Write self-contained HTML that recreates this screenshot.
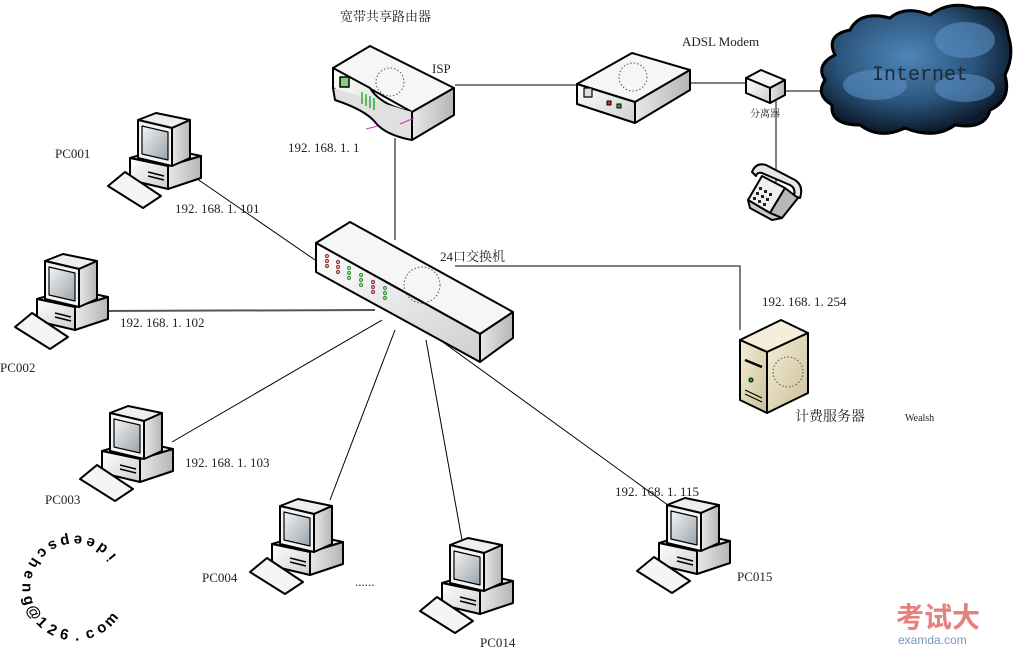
<!DOCTYPE html>
<html><head><meta charset="utf-8">
<style>
html,body{margin:0;padding:0;background:#fff;}
svg{display:block;}
text{font-family:"Liberation Serif","Noto Serif CJK SC",serif;fill:#222;}
.sg{font-family:"Liberation Sans",sans-serif;font-weight:bold;font-size:15px;fill:#000;}
</style></head>
<body>
<svg width="1017" height="653" viewBox="0 0 1017 653" xmlns="http://www.w3.org/2000/svg">
<defs>
<linearGradient id="gw" x1="0" y1="0" x2="1" y2="1"><stop offset="0" stop-color="#ffffff"/><stop offset="1" stop-color="#cfcfcf"/></linearGradient>
<linearGradient id="gd" x1="0" y1="0" x2="1" y2="0"><stop offset="0" stop-color="#e8e8e8"/><stop offset="1" stop-color="#b5b5b5"/></linearGradient>
<linearGradient id="gs" x1="0" y1="0" x2="1" y2="1"><stop offset="0" stop-color="#f4f4f4"/><stop offset="1" stop-color="#9aa3aa"/></linearGradient>
<radialGradient id="gc" cx="0.45" cy="0.4" r="0.6"><stop offset="0" stop-color="#4f86b8"/><stop offset="0.6" stop-color="#2c557c"/><stop offset="1" stop-color="#0c1a2a"/></radialGradient>
<linearGradient id="gsv" x1="0" y1="0" x2="1" y2="1"><stop offset="0" stop-color="#f5efd8"/><stop offset="1" stop-color="#cbbf98"/></linearGradient>
<g id="pc" stroke="#000" stroke-width="2" stroke-linejoin="round">
  <polygon points="22,46 56,36 93,44 60,54" fill="#f2f2f2"/>
  <polygon points="22,46 60,54 60,77 22,68" fill="url(#gw)"/>
  <polygon points="60,54 93,44 93,66 60,77" fill="url(#gd)"/>
  <polygon points="30,8 48,1 82,8 64,16" fill="#eee"/>
  <polygon points="30,8 64,16 64,54 30,46" fill="#f4f4f4"/>
  <polygon points="64,16 82,8 82,46 64,54" fill="url(#gd)"/>
  <polygon points="34,14 60,20 60,48 34,42" fill="url(#gs)" stroke-width="1.2"/>
  <line x1="40" y1="60" x2="56" y2="64" stroke-width="1.5"/>
  <line x1="40" y1="64" x2="56" y2="68" stroke-width="1.5"/>
  <polygon points="0,74 17,60 53,84 35,96" fill="#f5f5f5"/>
</g>
</defs>

<!-- connectors -->
<g stroke="#000" stroke-width="1" fill="none">
<line x1="190" y1="174" x2="318" y2="262"/>
<line x1="100" y1="311" x2="375" y2="310" stroke="#555" stroke-width="2"/>
<line x1="172" y1="442" x2="382" y2="320"/>
<line x1="330" y1="500" x2="395" y2="330"/>
<line x1="462" y1="540" x2="426" y2="340"/>
<line x1="672" y1="508" x2="440" y2="340"/>
<line x1="395" y1="138" x2="395" y2="240"/>
<polyline points="455,266 740,266 740,330"/>
<line x1="455" y1="85" x2="580" y2="85"/>
<line x1="690" y1="83" x2="748" y2="83"/>
<line x1="785" y1="91" x2="830" y2="91"/>
<line x1="776" y1="100" x2="776" y2="185"/>
</g>

<!-- router -->
<g stroke="#000" stroke-width="2" stroke-linejoin="round">
<polygon points="333,68 370,46 454,88 412,112" fill="#f6f6f6"/>
<path d="M333,68 L333,88 Q350,100 368,105 Q378,125 410,135 L412,112 Q380,105 370,88 Z" fill="url(#gw)"/>
<polygon points="412,112 454,88 454,115 412,140" fill="url(#gd)"/>
<path d="M412,112 L412,140 Q385,135 375,122 Q365,110 335,100 L333,88" fill="#e0e0e0"/>
<rect x="340" y="77" width="9" height="10" fill="#7fcf7f" stroke-width="1.5"/>
</g>
<g stroke="#3a3" stroke-width="1.5"><line x1="362" y1="92" x2="362" y2="104"/><line x1="366" y1="94" x2="366" y2="106"/><line x1="370" y1="96" x2="370" y2="108"/><line x1="374" y1="98" x2="374" y2="110"/></g>
<line x1="400" y1="124" x2="414" y2="118" stroke="#c3c" stroke-width="1"/>
<line x1="366" y1="129" x2="378" y2="126" stroke="#c3c" stroke-width="1"/>
<circle cx="390" cy="82" r="14" fill="none" stroke="#555" stroke-dasharray="1.5,2" stroke-width="1"/>

<!-- switch -->
<g stroke="#000" stroke-width="2" stroke-linejoin="round">
<polygon points="316,243 350,222 513,312 480,334" fill="#f6f6f6"/>
<polygon points="316,243 480,334 480,362 316,272" fill="url(#gw)"/>
<polygon points="480,334 513,312 513,338 480,362" fill="url(#gd)"/>
</g>
<g fill="none" stroke-width="1.2">
<g stroke="#933"><circle cx="327" cy="256" r="1.5"/><circle cx="327" cy="261" r="1.5"/><circle cx="327" cy="266" r="1.5"/><circle cx="338" cy="262" r="1.5"/><circle cx="338" cy="267" r="1.5"/><circle cx="338" cy="272" r="1.5"/><circle cx="373" cy="282" r="1.5"/><circle cx="373" cy="287" r="1.5"/><circle cx="373" cy="292" r="1.5"/></g>
<g stroke="#393"><circle cx="349" cy="268" r="1.5"/><circle cx="349" cy="273" r="1.5"/><circle cx="349" cy="278" r="1.5"/><circle cx="361" cy="275" r="1.5"/><circle cx="361" cy="280" r="1.5"/><circle cx="361" cy="285" r="1.5"/><circle cx="385" cy="288" r="1.5"/><circle cx="385" cy="293" r="1.5"/><circle cx="385" cy="298" r="1.5"/></g>
</g>
<circle cx="422" cy="285" r="18" fill="none" stroke="#555" stroke-dasharray="1.5,2" stroke-width="1"/>

<!-- modem -->
<g stroke="#000" stroke-width="2" stroke-linejoin="round">
<polygon points="577,84 632,53 690,70 635,102" fill="#f6f6f6"/>
<polygon points="577,84 635,102 635,123 577,104" fill="url(#gw)"/>
<polygon points="635,102 690,70 690,90 635,123" fill="url(#gd)"/>
<rect x="584" y="88" width="8" height="9" fill="#ddd" stroke-width="1.2"/>
<rect x="607" y="101" width="4" height="4" fill="#c33" stroke-width="1"/>
<rect x="617" y="104" width="4" height="4" fill="#3a3" stroke-width="1"/>
</g>
<circle cx="633" cy="77" r="14" fill="none" stroke="#555" stroke-dasharray="1.5,2" stroke-width="1"/>

<!-- splitter -->
<g stroke="#000" stroke-width="2" stroke-linejoin="round">
<polygon points="746,78 761,70 785,80 770,88" fill="#f6f6f6"/>
<polygon points="746,78 770,88 770,103 746,93" fill="url(#gw)"/>
<polygon points="770,88 785,80 785,95 770,103" fill="url(#gd)"/>
</g>

<!-- phone -->
<g stroke="#000" stroke-width="2" stroke-linejoin="round">
<path d="M752,172 Q756,162 766,165 L795,180 Q804,186 800,198 L794,196 Q796,188 790,185 L762,173 Q757,172 756,176 Z" fill="#e6e6e6"/>
<polygon points="748,200 762,176 785,188 770,213" fill="#f0f0f0"/>
<polygon points="770,213 785,188 798,198 782,218" fill="#b8b8b8"/>
<polygon points="748,200 770,213 782,218 772,220 750,208" fill="#ccc"/>
</g>
<g fill="#222"><rect x="759" y="187" width="3" height="3"/><rect x="764" y="190" width="3" height="3"/><rect x="769" y="193" width="3" height="3"/><rect x="756" y="192" width="3" height="3"/><rect x="761" y="195" width="3" height="3"/><rect x="766" y="198" width="3" height="3"/><rect x="753" y="197" width="3" height="3"/><rect x="758" y="200" width="3" height="3"/><rect x="763" y="203" width="3" height="3"/></g>

<!-- cloud -->
<g stroke="#000" stroke-width="3" fill="url(#gc)">
<path d="M835,55 Q825,35 850,30 Q860,10 890,18 Q905,5 930,15 Q950,0 975,8 Q1005,5 1008,35 Q1015,55 1005,75 Q1012,100 990,110 Q985,130 955,125 Q935,140 905,128 Q880,140 860,125 Q830,125 832,105 Q815,95 825,80 Q815,65 835,55 Z"/>
</g>
<g fill="#5a8fc4" opacity="0.6"><ellipse cx="875" cy="85" rx="32" ry="15"/><ellipse cx="965" cy="40" rx="30" ry="18"/><ellipse cx="965" cy="88" rx="30" ry="14"/></g>

<!-- server -->
<g stroke="#000" stroke-width="2" stroke-linejoin="round">
<polygon points="740,340 781,320 808,333 767,352" fill="#f4eedb"/>
<polygon points="740,340 767,352 767,413 740,400" fill="url(#gsv)"/>
<polygon points="767,352 808,333 808,393 767,413" fill="url(#gsv)"/>
<line x1="745" y1="360" x2="762" y2="367" stroke-width="2.5"/>
<line x1="745" y1="390" x2="762" y2="398" stroke-width="1"/>
<line x1="745" y1="394" x2="762" y2="402" stroke-width="1"/>
<circle cx="751" cy="380" r="2" fill="#3a3" stroke-width="1"/>
</g>
<circle cx="788" cy="372" r="15" fill="none" stroke="#555" stroke-dasharray="1.5,2" stroke-width="1"/>

<!-- PCs -->
<use href="#pc" x="108" y="112"/>
<use href="#pc" x="15" y="253"/>
<use href="#pc" x="80" y="405"/>
<use href="#pc" x="250" y="498"/>
<use href="#pc" x="420" y="537"/>
<use href="#pc" x="637" y="497"/>

<!-- labels -->
<g font-size="13">
<text x="340" y="21">宽带共享路由器</text>
<text x="432" y="73">ISP</text>
<text x="682" y="46">ADSL Modem</text>
<text x="288" y="152">192. 168. 1. 1</text>
<text x="55" y="158">PC001</text>
<text x="175" y="213">192. 168. 1. 101</text>
<text x="440" y="261">24口交换机</text>
<text x="762" y="306">192. 168. 1. 254</text>
<text x="120" y="327">192. 168. 1. 102</text>
<text x="0" y="372">PC002</text>
<text x="795" y="421" font-size="14">计费服务器</text>
<text x="45" y="504">PC003</text>
<text x="185" y="467">192. 168. 1. 103</text>
<text x="615" y="496">192. 168. 1. 115</text>
<text x="202" y="582">PC004</text>
<text x="355" y="586">......</text>
<text x="480" y="647">PC014</text>
<text x="737" y="581">PC015</text>
</g>
<text x="905" y="421" font-size="10">Wealsh</text>
<text x="750" y="117" font-size="10">分离器</text>
<text x="872" y="80" font-size="20" style="font-family:'Liberation Mono',monospace;fill:#1a2a3a">Internet</text>

<!-- circular signature (upside-down letters) -->
<g class="sg" text-anchor="middle" dominant-baseline="central">
<text class="sg" transform="translate(111.8,557.1) rotate(-130)">i</text>
<text class="sg" transform="translate(102.2,548.4) rotate(-145.5)">d</text>
<text class="sg" transform="translate(90.6,542.6) rotate(-161)">e</text>
<text class="sg" transform="translate(77.9,540.1) rotate(-176.5)">e</text>
<text class="sg" transform="translate(65.0,541.1) rotate(-192)">p</text>
<text class="sg" transform="translate(52.8,545.4) rotate(-207.5)">s</text>
<text class="sg" transform="translate(42.3,552.9) rotate(-223)">c</text>
<text class="sg" transform="translate(34.1,562.9) rotate(-238.5)">h</text>
<text class="sg" transform="translate(28.9,574.8) rotate(-254)">e</text>
<text class="sg" transform="translate(27,587.6) rotate(-269.5)">n</text>
<text class="sg" transform="translate(28.6,600.4) rotate(-285)">g</text>
<text class="sg" transform="translate(33.6,612.4) rotate(-300.5)">@</text>
<text class="sg" transform="translate(41.6,622.5) rotate(-316)">1</text>
<text class="sg" transform="translate(52.1,630.2) rotate(-331.5)">2</text>
<text class="sg" transform="translate(64.2,634.8) rotate(-347)">6</text>
<text class="sg" transform="translate(77.1,636) rotate(-362.5)">.</text>
<text class="sg" transform="translate(89.8,633.6) rotate(-378)">c</text>
<text class="sg" transform="translate(101.5,628) rotate(-393.5)">o</text>
<text class="sg" transform="translate(111.2,619.5) rotate(-409)">m</text>
</g>

<!-- watermark -->
<text x="896" y="627" font-size="28" font-weight="bold" style="font-family:'Liberation Sans','Noto Sans CJK SC',sans-serif;fill:#e88080">考试大</text>
<text x="898" y="644" font-size="12" style="font-family:'Liberation Sans',sans-serif;fill:#7a95c0">examda.com</text>
</svg>
</body></html>
